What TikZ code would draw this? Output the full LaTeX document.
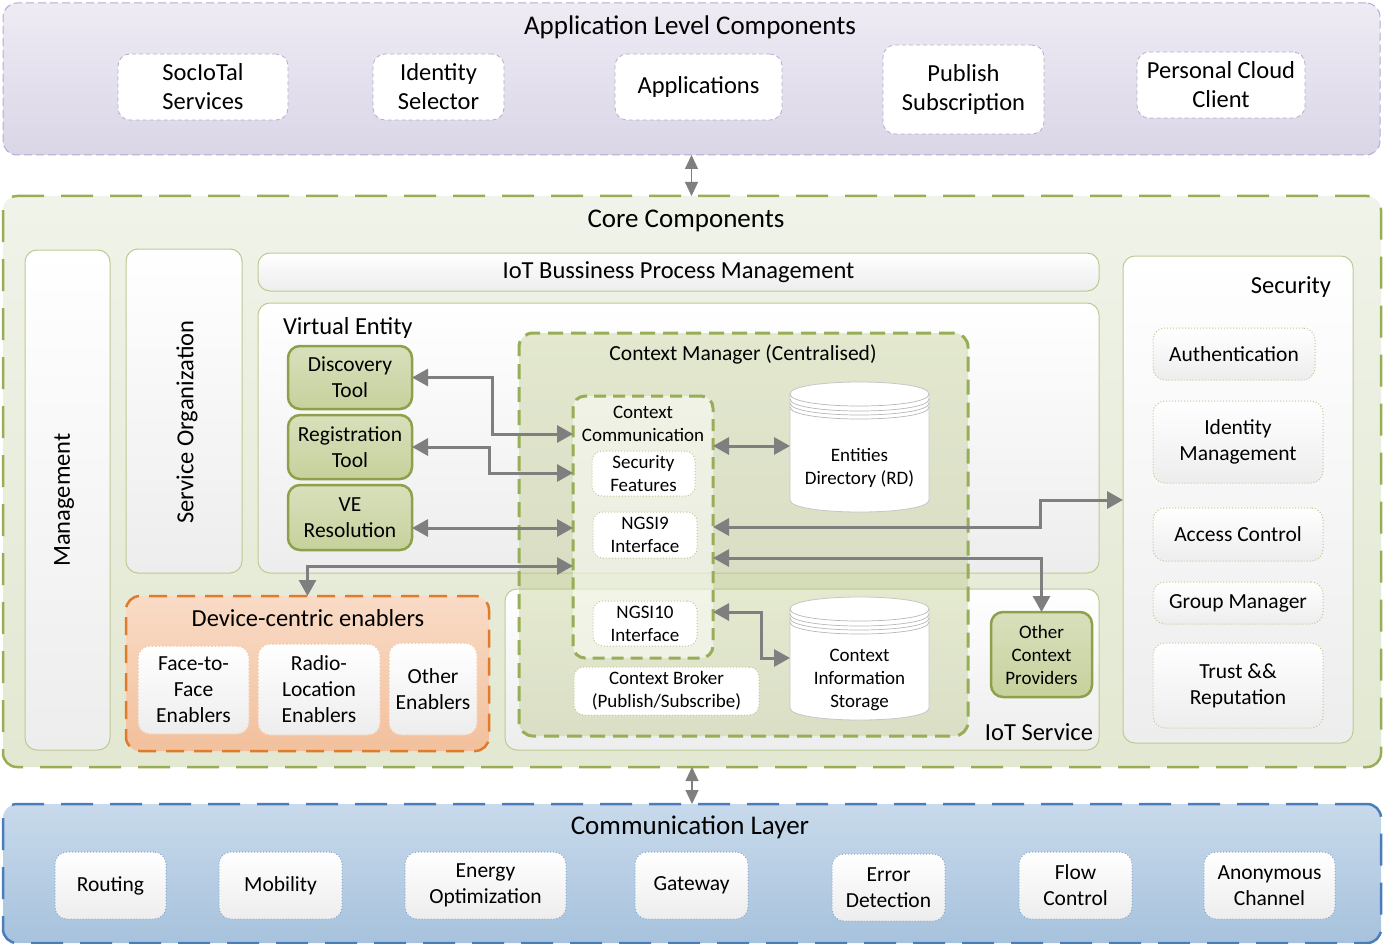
\documentclass[tikz,border=0pt]{standalone}
\usepackage{fontspec}
\setmainfont{Carlito}
\usetikzlibrary{arrows.meta,calc,positioning}

\definecolor{appA}{HTML}{EEEBF4}
\definecolor{appB}{HTML}{DAD6E7}
\definecolor{appline}{HTML}{B6AACF}
\definecolor{coreA}{HTML}{F0F3E9}
\definecolor{coreB}{HTML}{E2E8D1}
\definecolor{coreline}{HTML}{98AE56}
\definecolor{panelline}{HTML}{BCCB92}
\definecolor{panelbot}{HTML}{EDEDED}
\definecolor{toolA}{HTML}{D8E0BC}
\definecolor{toolB}{HTML}{C6D19C}
\definecolor{toolline}{HTML}{8CA14A}
\definecolor{cmfill}{HTML}{B3C27A}
\definecolor{devA}{HTML}{F9DBC6}
\definecolor{devB}{HTML}{F2C09C}
\definecolor{devline}{HTML}{E07B2B}
\definecolor{devdot}{HTML}{F6CFB2}
\definecolor{commA}{HTML}{C8DAEB}
\definecolor{commB}{HTML}{A7C2DD}
\definecolor{commline}{HTML}{4A7EBB}
\definecolor{commdot}{HTML}{86A6CC}
\definecolor{arrowgray}{HTML}{7F7F7F}

\tikzset{
  sz/.style 2 args={minimum width=#1pt, minimum height=#2pt},
  ttl/.style={font=\fontsize{27}{32}\selectfont},
  big/.style={font=\fontsize{24.5}{29}\selectfont},
  mid/.style={font=\fontsize{21.5}{26}\selectfont},
  sml/.style={font=\fontsize{19}{23}\selectfont},
  layer/.style={rounded corners=14pt, line width=2.5pt, dash pattern=on 32pt off 17pt},
  appbox/.style={big, draw=appline, fill=white, line width=0.8pt, dash pattern=on 4pt off 3pt, rounded corners=12pt},
  panel/.style={draw=panelline, line width=1pt, rounded corners=12pt, top color=white, bottom color=panelbot},
  tool/.style={mid, draw=toolline, line width=2.5pt, rounded corners=12pt, top color=toolA, bottom color=toolB},
  inbox/.style={sml, draw=panelline, dotted, line width=1pt, fill=white, rounded corners=10pt},
  devin/.style={mid, draw=devdot, dotted, line width=1.5pt, rounded corners=12pt, top color=white, bottom color=panelbot},
  secin/.style={mid, draw=panelline, dotted, line width=1pt, rounded corners=12pt, top color=white, bottom color=panelbot},
  commbox/.style={mid, draw=commdot, dotted, line width=1pt, rounded corners=12pt, top color=white, bottom color=panelbot},
  conn/.style={draw=arrowgray, line width=3pt, {Triangle[length=16pt,width=17pt]}-{Triangle[length=16pt,width=17pt]}},
  link/.style={draw=arrowgray, line width=1.2pt, {Triangle[length=14pt,width=13pt]}-{Triangle[length=14pt,width=13pt]}}
}

\begin{document}
\begin{tikzpicture}[x=1pt,y=-1pt,
    every node/.style={inner sep=0pt, outer sep=0pt, align=center}]
    \useasboundingbox (0,0) rectangle (1383,944);

    %% Layers
    \node[layer, draw=appline, top color=appA, bottom color=appB, line width=1pt,
          dash pattern=on 8pt off 4pt, sz={1377}{152}] (app) at (691.5,79) {};
    \node[layer, draw=coreline, top color=coreA, bottom color=coreB, sz={1378}{571}] (core) at (692,481.5) {};
    \node[layer, draw=commline, top color=commA, bottom color=commB, sz={1378}{139}] (comm) at (692,873.5) {};
    \node[ttl] (apptitle) at (690,27) {Application Level Components};
    \node[ttl] (coretitle) at (686,221) {Core Components};
    \node[ttl] (commtitle) at (690,827) {Communication Layer};

    %% Application level
    \node[appbox, sz={170}{66}] (soc) at (203,87) {SocIoTal\\Services};
    \node[appbox, sz={131}{66}] (idsel) at (438.5,87) {Identity\\Selector};
    \node[appbox, sz={167}{66}] (apps) at (698.5,87) {Applications};
    \node[appbox, sz={161}{89}] (pubsub) at (963.5,89.5) {Publish\\Subscription};
    \node[appbox, sz={168}{66}] (pcc) at (1221,85) {Personal Cloud\\Client};

    %% Core panels
    \node[panel, sz={85}{500}] (mgmt) at (67.5,500) {};
    \node[big, rotate=90] (mgmttxt) at (64,500) {Management};
    \node[panel, sz={116}{324}] (sorg) at (184,411) {};
    \node[big, rotate=90] (sorgtxt) at (187,422) {Service Organization};
    \node[panel, big, sz={841}{38}] (bpm) at (678.5,272) {IoT Bussiness Process Management};
    \node[panel, sz={841}{270}] (ve) at (678.5,438) {};
    \node[big, anchor=west] (vetxt) at (283,328) {Virtual Entity};
    \node[panel, sz={594}{161}] (iots) at (802,669.5) {};
    \node[big, anchor=east] (iotstxt) at (1093,732) {IoT Service};
    \node[panel, sz={230}{487}] (sec) at (1238,499.5) {};
    \node[big, anchor=east] (sectxt) at (1331,287) {Security};

    %% Virtual entity tools
    \node[tool, sz={124}{63}] (disc) at (350,377.5) {Discovery\\Tool};
    \node[tool, sz={124}{64}] (reg) at (350,447) {Registration\\Tool};
    \node[tool, sz={124}{65}] (ver) at (350,517.5) {VE\\Resolution};
    \node[tool, sml, sz={101}{85}] (ocp) at (1041.5,654.5) {Other\\Context\\Providers};

    %% Security
    \node[secin, sz={162}{52}] (auth) at (1234,354) {Authentication};
    \node[secin, sz={170}{82}] (idm) at (1238,442) {Identity\\Management};
    \node[secin, sz={170}{53}] (acc) at (1238,534.5) {Access Control};
    \node[secin, sz={170}{42}] (grp) at (1238,603) {Group Manager};
    \node[secin, sz={170}{85}] (trust) at (1238,685.5) {Trust \&\&\\Reputation};

    %% Device-centric enablers
    \node[draw=devline, line width=2.5pt, dash pattern=on 18pt off 10pt, rounded corners=14pt,
          top color=devA, bottom color=devB, sz={363}{155}] (dce) at (307.5,673.5) {};
    \node[big] (dcetxt) at (308,618) {Device-centric enablers};
    \node[devin, sz={111}{88}] (f2f) at (193.5,690) {Face-to-\\Face\\Enablers};
    \node[devin, sz={122}{91}] (radio) at (319,689.5) {Radio-\\Location\\Enablers};
    \node[devin, sz={88}{92}] (oth) at (433,689) {Other\\Enablers};

    %% Context manager
    \node[draw=coreline, line width=3pt, dash pattern=on 15pt off 8pt, rounded corners=14pt,
          fill=cmfill, fill opacity=0.35, sz={449}{403}] (cm) at (743.5,534.5) {};
    \node[mid] (cmtxt) at (743,354) {Context Manager (Centralised)};
    \node[draw=coreline, line width=3pt, dash pattern=on 12pt off 7pt, rounded corners=12pt,
          fill=white, fill opacity=0.5, sz={140}{262}] (ccomm) at (643,527) {};
    \node[sml] (ccommtxt) at (643,424) {Context\\Communication};
    \node[inbox, sz={103}{45}] (secf) at (643.5,473.5) {Security\\Features};
    \node[inbox, sz={104}{46}] (ngsi9) at (645,535) {NGSI9\\Interface};
    \node[inbox, sz={104}{45}] (ngsi10) at (645,623.5) {NGSI10\\Interface};
    \node[inbox, sz={185}{48}] (cb) at (666.5,691) {Context Broker\\(Publish/Subscribe)};

    %% Storage drums
    \node[sz={139}{130}] (ed) at (859.5,447) {};
    \node[sz={139}{123}] (cis) at (859.5,658.5) {};
    \foreach \cyl in {ed,cis}{
      \draw[draw=black!22, line width=0.8pt, fill=white]
        ($(\cyl.north west)+(0,12)$) -- ($(\cyl.south west)+(0,-12)$)
        .. controls ($(\cyl.south west)+(0,4)$) and ($(\cyl.south east)+(0,4)$) .. ($(\cyl.south east)+(0,-12)$)
        -- ($(\cyl.north east)+(0,12)$)
        .. controls ($(\cyl.north east)+(0,-4)$) and ($(\cyl.north west)+(0,-4)$) .. cycle;
      \foreach \k in {0,5,9,13}
        \draw[black!28, line width=0.7pt]
          ($(\cyl.north west)+(0,12+\k)$) .. controls ($(\cyl.north west)+(0,28+\k)$)
          and ($(\cyl.north east)+(0,28+\k)$) .. ($(\cyl.north east)+(0,12+\k)$);
    }
    \node[sml] (edtxt) at (859.5,468) {Entities\\Directory (RD)};
    \node[sml] (cistxt) at (859.5,680) {Context\\Information\\Storage};

    %% Communication layer
    \node[commbox, sz={111}{67}] (routing) at (110.5,885.5) {Routing};
    \node[commbox, sz={123}{67}] (mobility) at (280.5,885.5) {Mobility};
    \node[commbox, sz={161}{67}] (energy) at (485.5,885.5) {Energy\\Optimization};
    \node[commbox, sz={113}{67}] (gateway) at (691.5,885.5) {Gateway};
    \node[commbox, sz={113}{67}] (error) at (888.5,887.5) {Error\\Detection};
    \node[commbox, sz={113}{67}] (flow) at (1075.5,885.5) {Flow\\Control};
    \node[commbox, sz={131}{67}] (anon) at (1269.5,885.5) {Anonymous\\Channel};

    %% Connectors
    \draw[link] (app.south) -- (app.south |- core.north);
    \draw[link] (core.south) -- (comm.north);
    \draw[conn] (disc.east) -| (492,434) -- (ccomm.west |- 0,434);
    \draw[conn] (reg.east) -| (489,473) -- (ccomm.west |- 0,473);
    \draw[conn] (ver.east |- 0,528) -- (ccomm.west |- 0,528);
    \draw[conn] (ccomm.west |- 0,566) -| (dce.north);
    \draw[conn] (ccomm.east |- 0,446) -- (ed.west |- 0,446);
    \draw[conn] (ccomm.east |- 0,527) -| (1040,500) -- (sec.west |- 0,500);
    \draw[conn] (ccomm.east |- 0,558) -| (ocp.north);
    \draw[conn] (ccomm.east |- 0,612) -| (761,658) -- (cis.west |- 0,658);
\end{tikzpicture}
\end{document}
